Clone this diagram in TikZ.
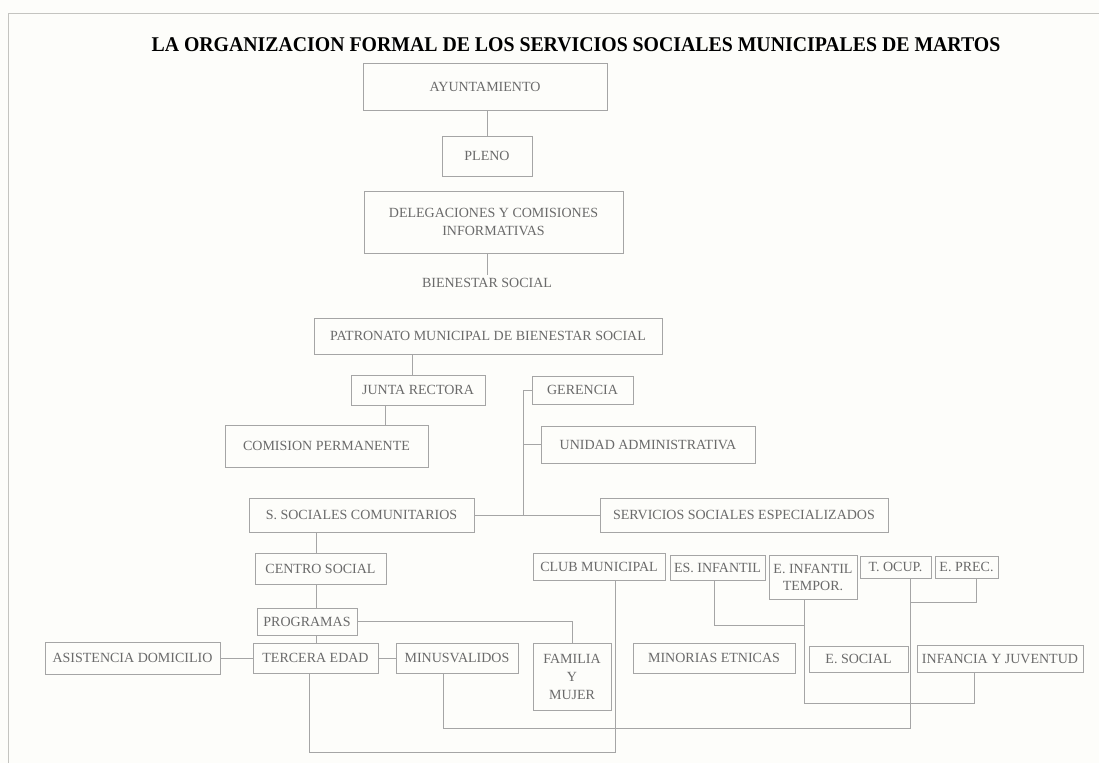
\documentclass[tikz,border=0pt]{standalone}
\usepackage{fontspec}
\setmainfont{Liberation Serif}
\usepackage{graphicx}
\usepackage{tikz}

\definecolor{fondo}{HTML}{FDFDFA}
\definecolor{linea}{HTML}{A5A5A5}
\definecolor{letra}{HTML}{6A6A6A}
\definecolor{marco}{HTML}{C4C4C0}
\tikzstyle{every node}=[font=\fontsize{14}{18}\selectfont]

\begin{document}
\begin{tikzpicture}[x=1pt,y=-1pt,color=linea,line width=0.8pt]
  \tikzstyle{caja}=[draw=linea,text=letra,inner sep=0pt,align=center]
  \tikzstyle{titulo}=[text=black,font=\fontsize{19.8}{22}\selectfont\bfseries]

  \useasboundingbox (0,0) rectangle (1099,763);
  \fill[fondo] (0,0) rectangle (1099,763);
  \draw[marco,line width=1pt] (8,763) -- (8,13) -- (1099,13);

  \node[titulo] (tit) at (576,45)
    {\scalebox{1.0}[1.06]{LA ORGANIZACION FORMAL DE LOS SERVICIOS SOCIALES MUNICIPALES DE MARTOS}};

  \node[caja,minimum width=244,minimum height=47] (ayto)     at (485,86.5)  {AYUNTAMIENTO};
  \node[caja,minimum width=90, minimum height=40] (pleno)    at (487,156)   {PLENO};
  \node[caja,minimum width=259,minimum height=62] (deleg)    at (493.5,222) {DELEGACIONES Y COMISIONES\\INFORMATIVAS};
  \node[text=letra,inner sep=3pt]                 (bien)     at (487,283)   {BIENESTAR SOCIAL};
  \node[caja,minimum width=348,minimum height=36] (patron)   at (488,336)   {PATRONATO MUNICIPAL DE BIENESTAR SOCIAL};
  \node[caja,minimum width=134,minimum height=30] (junta)    at (418,390)   {JUNTA RECTORA};
  \node[caja,minimum width=203,minimum height=42] (comision) at (326.5,446) {COMISION PERMANENTE};
  \node[caja,minimum width=101,minimum height=28] (gerencia) at (582.5,390) {GERENCIA};
  \node[caja,minimum width=214,minimum height=37] (unidad)   at (648,444.5) {UNIDAD ADMINISTRATIVA};
  \node[caja,minimum width=225,minimum height=34] (ssc)      at (361.5,515) {S. SOCIALES COMUNITARIOS};
  \node[caja,minimum width=288,minimum height=34] (sse)      at (744,515)   {SERVICIOS SOCIALES ESPECIALIZADOS};
  \node[caja,minimum width=131,minimum height=31] (centro)   at (320.5,569) {CENTRO SOCIAL};
  \node[caja,minimum width=100,minimum height=27] (prog)     at (307,621.5) {PROGRAMAS};
  \node[caja,minimum width=125,minimum height=30] (tercera)  at (315.5,658) {TERCERA EDAD};
  \node[caja,minimum width=175,minimum height=32] (asist)    at (132.5,658) {ASISTENCIA DOMICILIO};
  \node[caja,minimum width=122,minimum height=30] (minusv)   at (457,658)   {MINUSVALIDOS};
  \node[caja,minimum width=78, minimum height=67] (familia)  at (572,676.5) {FAMILIA\\Y\\MUJER};
  \node[caja,minimum width=132,minimum height=27] (club)     at (599,566.5) {CLUB MUNICIPAL};
  \node[caja,minimum width=95, minimum height=25] (esinf)    at (717.5,567.5) {ES. INFANTIL};
  \node[caja,minimum width=88, minimum height=44,
        font=\fontsize{14}{17}\selectfont]         (einft)    at (813,577)   {E. INFANTIL\\TEMPOR.};
  \node[caja,minimum width=71, minimum height=22] (tocup)    at (895.5,567) {T. OCUP.};
  \node[caja,minimum width=63, minimum height=22] (eprec)    at (966.5,567) {E. PREC.};
  \node[caja,minimum width=162,minimum height=30] (minor)    at (714,658)   {MINORIAS ETNICAS};
  \node[caja,minimum width=99, minimum height=26] (esocial)  at (858.5,659) {E. SOCIAL};
  \node[caja,minimum width=166,minimum height=27] (infancia) at (1000,658.5) {INFANCIA Y JUVENTUD};

  \coordinate (tronco) at (523,515);
  \coordinate (ejei)   at (316,0);
  \coordinate (nudo1)  at (910,728);
  \coordinate (nudo2)  at (910,602);
  \coordinate (nudo3)  at (804,625);
  \coordinate (nudo4)  at (804,703);
  \coordinate (nudo5)  at (615,752);

  \draw (ayto.south -| pleno.north) -- (pleno.north);
  \draw (bien.north) -- (bien.north |- deleg.south);
  \draw ([xshift=-6pt]junta.north) -- ([xshift=-6pt]junta.north |- patron.south);
  \draw ([xshift=-33pt]junta.south) -- ([xshift=-33pt]junta.south |- comision.north);
  \draw (gerencia.west) -| (tronco);
  \draw (unidad.west) -- (unidad.west -| tronco);
  \draw (ssc.east) -- (sse.west);
  \draw (ejei |- ssc.south) -- (ejei |- centro.north);
  \draw (ejei |- centro.south) -- (ejei |- prog.north);
  \draw (ejei |- prog.south) -- (ejei |- tercera.north);
  \draw (prog.east) -| (familia.north);
  \draw (asist.east) -- (tercera.west);
  \draw (tercera.east) -- (minusv.west);
  \draw ([xshift=-14pt]minusv.south) |- (nudo1) -- ([xshift=14.5pt]tocup.south);
  \draw ([xshift=9.5pt]eprec.south) |- (nudo2);
  \draw ([xshift=-3.5pt]esinf.south) |- (nudo3);
  \draw ([xshift=-9pt]einft.south) -- (nudo4) -| ([xshift=-26pt]infancia.south);
  \draw ([xshift=-6.5pt]tercera.south) |- (nudo5) -- ([xshift=16pt]club.south);
\end{tikzpicture}
\end{document}
